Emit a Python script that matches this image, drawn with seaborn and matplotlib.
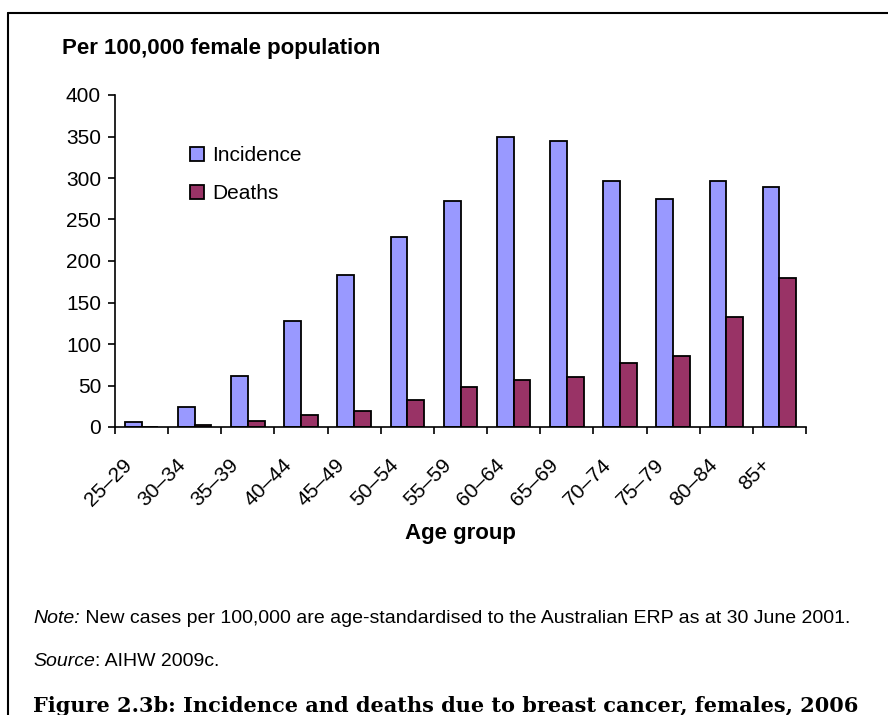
import numpy as np
import pandas as pd
import seaborn as sns
import matplotlib.pyplot as plt
from matplotlib.lines import Line2D
from matplotlib.transforms import ScaledTranslation

# Data
age_groups = ['25–29', '30–34', '35–39', '40–44', '45–49', '50–54', '55–59',
              '60–64', '65–69', '70–74', '75–79', '80–84', '85+']
incidence = [6, 24, 62, 128, 183, 229, 272, 349, 345, 296, 275, 296, 289]
deaths = [0, 2, 7, 14, 19, 33, 48, 57, 60, 77, 86, 132, 180]
series_names = ['Incidence', 'Deaths']
y_ticks = list(range(0, 401, 50))

sns.set_style('ticks')
plt.rcParams['font.family'] = ['Liberation Sans', 'DejaVu Sans']
plt.rcParams['text.color'] = 'black'
plt.rcParams['xtick.color'] = 'black'
plt.rcParams['ytick.color'] = 'black'
plt.rcParams['xtick.labelcolor'] = 'black'
plt.rcParams['ytick.labelcolor'] = 'black'

df = pd.DataFrame({
    'Age group': age_groups * 2,
    'value': incidence + deaths,
    'series': [series_names[0]] * len(age_groups) + [series_names[1]] * len(age_groups),
})

fig = plt.figure(figsize=(8.88, 7.15), dpi=100)
ax = fig.add_axes([115 / 888, 1 - 427 / 715, 691 / 888, 332 / 715])

sns.barplot(data=df, x='Age group', y='value', hue='series',
            palette=['#9999FF', '#993366'], saturation=1,
            edgecolor='black', linewidth=1.3, width=0.63, ax=ax)

ax.set_xlim(-0.5, len(age_groups) - 0.5)
ax.set_ylim(0, 400)
ax.set_yticks(y_ticks)
ax.set_xlabel('')
ax.set_ylabel('')
for s in ['top', 'right']:
    ax.spines[s].set_visible(False)
for s in ['left', 'bottom']:
    ax.spines[s].set_linewidth(1.2)
    ax.spines[s].set_color('black')

# ticks between the groups, labels at the group centres
ax.set_xticks(np.arange(-0.5, len(age_groups), 1), minor=True)
ax.tick_params(axis='x', which='major', length=0, pad=25, labelsize=15)
ax.tick_params(axis='x', which='minor', length=5, width=1.2, direction='out')
ax.tick_params(axis='y', length=5, width=1.2, direction='out', labelsize=15, pad=5)
for lab in ax.get_xticklabels():
    lab.set_rotation(45)
    lab.set_ha('right')
    lab.set_va('center')
    lab.set_rotation_mode('anchor')
    lab.set_transform(lab.get_transform() + ScaledTranslation(-12 / 100, 0, fig.dpi_scale_trans))

ax.legend(title=None, frameon=False, loc='upper left', bbox_to_anchor=(0.1085, 0.845),
          fontsize=15, handlelength=0.65, handleheight=0.65, handletextpad=0.4,
          labelspacing=0.9, borderpad=0, borderaxespad=0)

# titles and notes
fig.text(62 / 888, 1 - 54 / 715, 'Per 100,000 female population',
         fontsize=16, fontweight='bold', va='baseline')
fig.text(460 / 888, 1 - 539 / 715, 'Age group', ha='center', va='baseline',
         fontsize=16, fontweight='bold')

t1 = fig.text(33 / 888, 1 - 623 / 715, 'Note:', fontsize=14, style='italic', va='baseline')
ax.annotate(' New cases per 100,000 are age-standardised to the Australian ERP as at 30 June 2001.',
            xy=(1, 0), xycoords=t1, va='bottom', fontsize=14, annotation_clip=False)
t2 = fig.text(33 / 888, 1 - 666 / 715, 'Source', fontsize=14, style='italic', va='baseline')
ax.annotate(': AIHW 2009c.', xy=(1, 0), xycoords=t2, va='bottom', fontsize=14,
            annotation_clip=False)

fig.text(33 / 888, 1 - 706 / 715,
         'Figure 2.3b: Incidence and deaths due to breast cancer, females, 2006',
         family='DejaVu Serif', fontweight='bold', fontsize=15, va='center')

# frame (only left and top edges visible)
fig.add_artist(Line2D([8 / 888, 8 / 888], [0, 1 - 13 / 715], color='black', lw=1.5,
                      transform=fig.transFigure))
fig.add_artist(Line2D([8 / 888, 1], [1 - 13 / 715, 1 - 13 / 715], color='black', lw=1.5,
                      transform=fig.transFigure))

fig.savefig('out.png', dpi=100)
